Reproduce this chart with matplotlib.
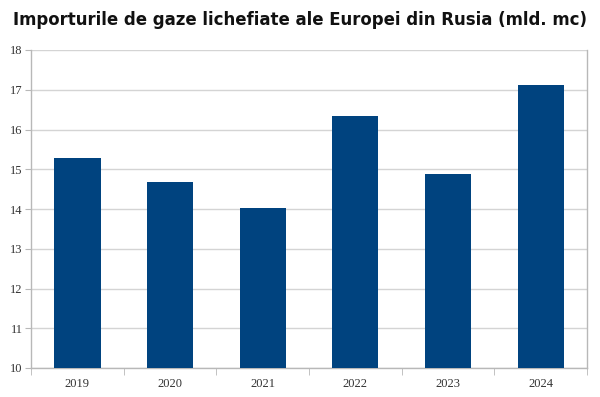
import matplotlib.pyplot as plt
import numpy as np

years = ['2019', '2020', '2021', '2022', '2023', '2024']
imports = [15.28, 14.69, 14.02, 16.34, 14.89, 17.12]

bar_color = '#00437f'
grid_color = '#d4d4d4'

fig = plt.figure(figsize=(6.0, 3.97), dpi=100)
ax = fig.add_axes([31 / 600, 1 - 368 / 397, 556 / 600, 318 / 397])

x = np.arange(len(years))
ax.bar(x, imports, width=0.5, color=bar_color, zorder=3)

ax.set_xlim(-0.5, len(years) - 0.5)
ax.set_ylim(10, 18)
ax.set_yticks(np.arange(10, 19, 1))
ax.set_xticks(x)
ax.set_xticklabels(years)
ax.set_xticks(np.arange(-0.5, len(years), 1), minor=True)

ax.yaxis.grid(True, color=grid_color, linewidth=1, zorder=0)
for s in ax.spines.values():
    s.set_color('#b8b8b8')
    s.set_linewidth(1)
ax.spines['top'].set_visible(False)

ax.tick_params(axis='x', which='major', length=0, pad=7)
ax.tick_params(axis='x', which='minor', length=5, color='#b8b8b8')
ax.tick_params(axis='y', length=4, color='#b8b8b8', pad=2)
for lab in ax.get_xticklabels() + ax.get_yticklabels():
    lab.set_family('Liberation Serif')
    lab.set_fontsize(9)
    lab.set_color('#333333')

title = fig.text(0.5, 1 - 20 / 397, 'Importurile de gaze lichefiate ale Europei din Rusia (mld. mc)',
                 ha='center', va='center', fontsize=17, fontweight='bold',
                 family=['DejaVu Sans'], fontstretch='condensed', color='#111111')

# shrink the title until it fits the width used in the original
fig.canvas.draw()
renderer = fig.canvas.get_renderer()
while title.get_window_extent(renderer).width > 578:
    title.set_fontsize(title.get_fontsize() - 0.25)

plt.savefig('out.png', dpi=100)
